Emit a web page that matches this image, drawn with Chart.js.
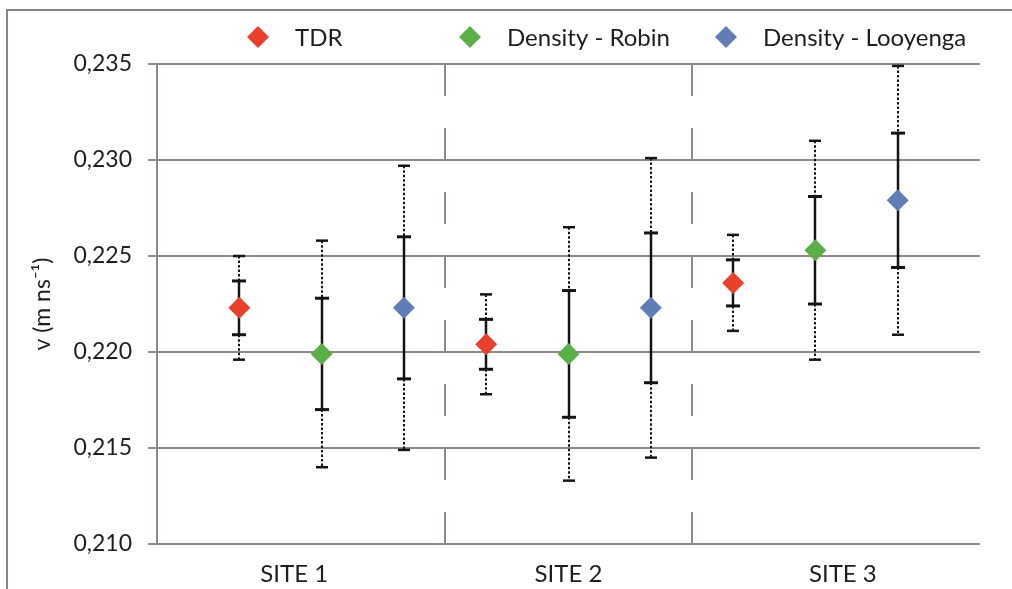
<!DOCTYPE html>
<html>
<head>
<meta charset="utf-8">
<script src="https://cdn.jsdelivr.net/npm/chart.js@4.4.1/dist/chart.umd.min.js"></script>
<style>
  html, body { margin: 0; padding: 0; background: #fff; }
  #wrap { position: relative; width: 1012px; height: 589px; overflow: hidden; }
  #frame { position: absolute; left: 6px; top: 9px; width: 1100px; height: 700px;
           border-left: 2px solid #8a8581; border-top: 2px solid #8a8581; }
  canvas { position: absolute; left: 0; top: 0; }
</style>
</head>
<body>
<div id="wrap">
  <div id="frame"></div>
  <canvas id="velocityChart" width="1012" height="589"></canvas>
</div>
<script>
// Sites on the x axis and the three series
const sites = ['SITE 1', 'SITE 2', 'SITE 3'];
const seriesNames = ['TDR', 'Density - Robin', 'Density - Looyenga'];
const seriesColors = ['#e8402d', '#5aaf48', '#607db5'];

// Mean velocity per site (m/ns)
const tdrMean = [0.2223, 0.2204, 0.2236];
const robinMean = [0.2199, 0.2199, 0.2253];
const looyengaMean = [0.2223, 0.2223, 0.2279];

// Half width of the solid (inner) error bars
const tdrInner = [0.0014, 0.0013, 0.0012];
const robinInner = [0.0029, 0.0033, 0.0028];
const looyengaInner = [0.0037, 0.0039, 0.0035];

// Half width of the dotted (outer) error bars
const tdrOuter = [0.0027, 0.0026, 0.0025];
const robinOuter = [0.0059, 0.0066, 0.0057];
const looyengaOuter = [0.0074, 0.0078, 0.0070];

// Y axis ticks
const yMin = 0.210, yMax = 0.235, yStep = 0.005;

const means = [tdrMean, robinMean, looyengaMean];
const inners = [tdrInner, robinInner, looyengaInner];
const outers = [tdrOuter, robinOuter, looyengaOuter];

const perSite = seriesNames.length;
const xMax = sites.length * perSite + 1;

const FONT = 'Lato, "Open Sans", sans-serif';
const GRID = '#8e8986';

// build one scatter dataset per series; x = slot of the point inside its site
const datasets = seriesNames.map((name, s) => ({
    label: name,
    data: means[s].map((v, i) => ({
        x: i * perSite + s + 1,
        y: v,
        inner: inners[s][i],
        outer: outers[s][i]
    })),
    backgroundColor: seriesColors[s],
    borderColor: seriesColors[s],
    borderWidth: 0,
    pointStyle: 'rectRot',
    pointRadius: 11,
    pointHoverRadius: 11
}));

// dashed separators between sites, plus the two-level error bars
const errorBars = {
    id: 'errorBars',
    beforeDatasetsDraw(chart) {
        const { ctx, chartArea, scales: { x, y } } = chart;
        ctx.save();

        // separators
        ctx.strokeStyle = GRID;
        ctx.lineWidth = 2;
        ctx.setLineDash([32, 32]);
        for (let i = 1; i < sites.length; i++) {
            const px = Math.round(x.getPixelForValue(i * perSite + 0.5));
            ctx.beginPath();
            ctx.moveTo(px, chartArea.top);
            ctx.lineTo(px, chartArea.bottom);
            ctx.stroke();
        }

        const cap = (px, py, w, lw) => {
            ctx.setLineDash([]);
            ctx.lineWidth = lw;
            ctx.beginPath();
            ctx.moveTo(px - w / 2, py);
            ctx.lineTo(px + w / 2, py);
            ctx.stroke();
        };

        ctx.strokeStyle = '#141414';
        chart.data.datasets.forEach(ds => {
            ds.data.forEach(p => {
                const px = Math.round(x.getPixelForValue(p.x));
                const oTop = y.getPixelForValue(p.y + p.outer);
                const oBot = y.getPixelForValue(p.y - p.outer);
                const iTop = y.getPixelForValue(p.y + p.inner);
                const iBot = y.getPixelForValue(p.y - p.inner);

                // dotted outer part
                ctx.lineWidth = 2;
                ctx.setLineDash([2.5, 2]);
                ctx.beginPath();
                ctx.moveTo(px, oTop);
                ctx.lineTo(px, iTop);
                ctx.moveTo(px, iBot);
                ctx.lineTo(px, oBot);
                ctx.stroke();
                cap(px, oTop, 12, 2.5);
                cap(px, oBot, 12, 2.5);

                // solid inner part
                ctx.setLineDash([]);
                ctx.lineWidth = 2.5;
                ctx.beginPath();
                ctx.moveTo(px, iTop);
                ctx.lineTo(px, iBot);
                ctx.stroke();
                cap(px, iTop, 14, 3);
                cap(px, iBot, 14, 3);
            });
        });
        ctx.restore();
    }
};

// legend drawn by hand so the uneven spacing of the original can be kept
const legendX = [258, 470, 726];
const customLegend = {
    id: 'customLegend',
    afterDraw(chart) {
        const { ctx } = chart;
        ctx.save();
        ctx.font = '24px ' + FONT;
        ctx.textBaseline = 'middle';
        ctx.textAlign = 'left';
        chart.data.datasets.forEach((ds, s) => {
            const cx = legendX[s], cy = 37;
            ctx.fillStyle = ds.backgroundColor;
            ctx.beginPath();
            ctx.moveTo(cx - 11, cy);
            ctx.lineTo(cx, cy - 11);
            ctx.lineTo(cx + 11, cy);
            ctx.lineTo(cx, cy + 11);
            ctx.closePath();
            ctx.fill();
            ctx.fillStyle = '#1e1e1e';
            ctx.fillText(ds.label, cx + 37, cy + 1);
        });
        ctx.restore();
    }
};

new Chart(document.getElementById('velocityChart'), {
    type: 'scatter',
    data: { datasets },
    plugins: [errorBars, customLegend],
    options: {
        responsive: false,
        animation: false,
        layout: { padding: { top: 64, right: 32, bottom: 0, left: 0 } },
        plugins: {
            legend: { display: false },
            tooltip: { enabled: false }
        },
        scales: {
            x: {
                type: 'linear',
                min: 0,
                max: xMax,
                afterBuildTicks: scale => {
                    scale.ticks = sites.map((s, i) => ({ value: (i + 0.5) * xMax / sites.length }));
                },
                afterFit: scale => { scale.height = 45; },
                grid: { display: false },
                border: { display: false },
                ticks: {
                    autoSkip: false,
                    maxRotation: 0,
                    padding: 8,
                    color: '#1e1e1e',
                    font: { family: FONT, size: 24 },
                    callback: (v, i) => sites[i]
                }
            },
            y: {
                min: yMin,
                max: yMax,
                afterFit: scale => { scale.width = 157; },
                ticks: {
                    stepSize: yStep,
                    padding: 16,
                    color: '#1e1e1e',
                    font: { family: FONT, size: 23 },
                    callback: v => v.toFixed(3).replace('.', ',')
                },
                grid: {
                    color: GRID,
                    lineWidth: 2,
                    tickLength: 9
                },
                border: { color: GRID, width: 2 },
                title: {
                    display: true,
                    text: 'v (m ns⁻¹)',
                    color: '#1e1e1e',
                    font: { family: FONT, size: 23 },
                    padding: { top: 29, bottom: 0 }
                }
            }
        }
    }
});
</script>
</body>
</html>
